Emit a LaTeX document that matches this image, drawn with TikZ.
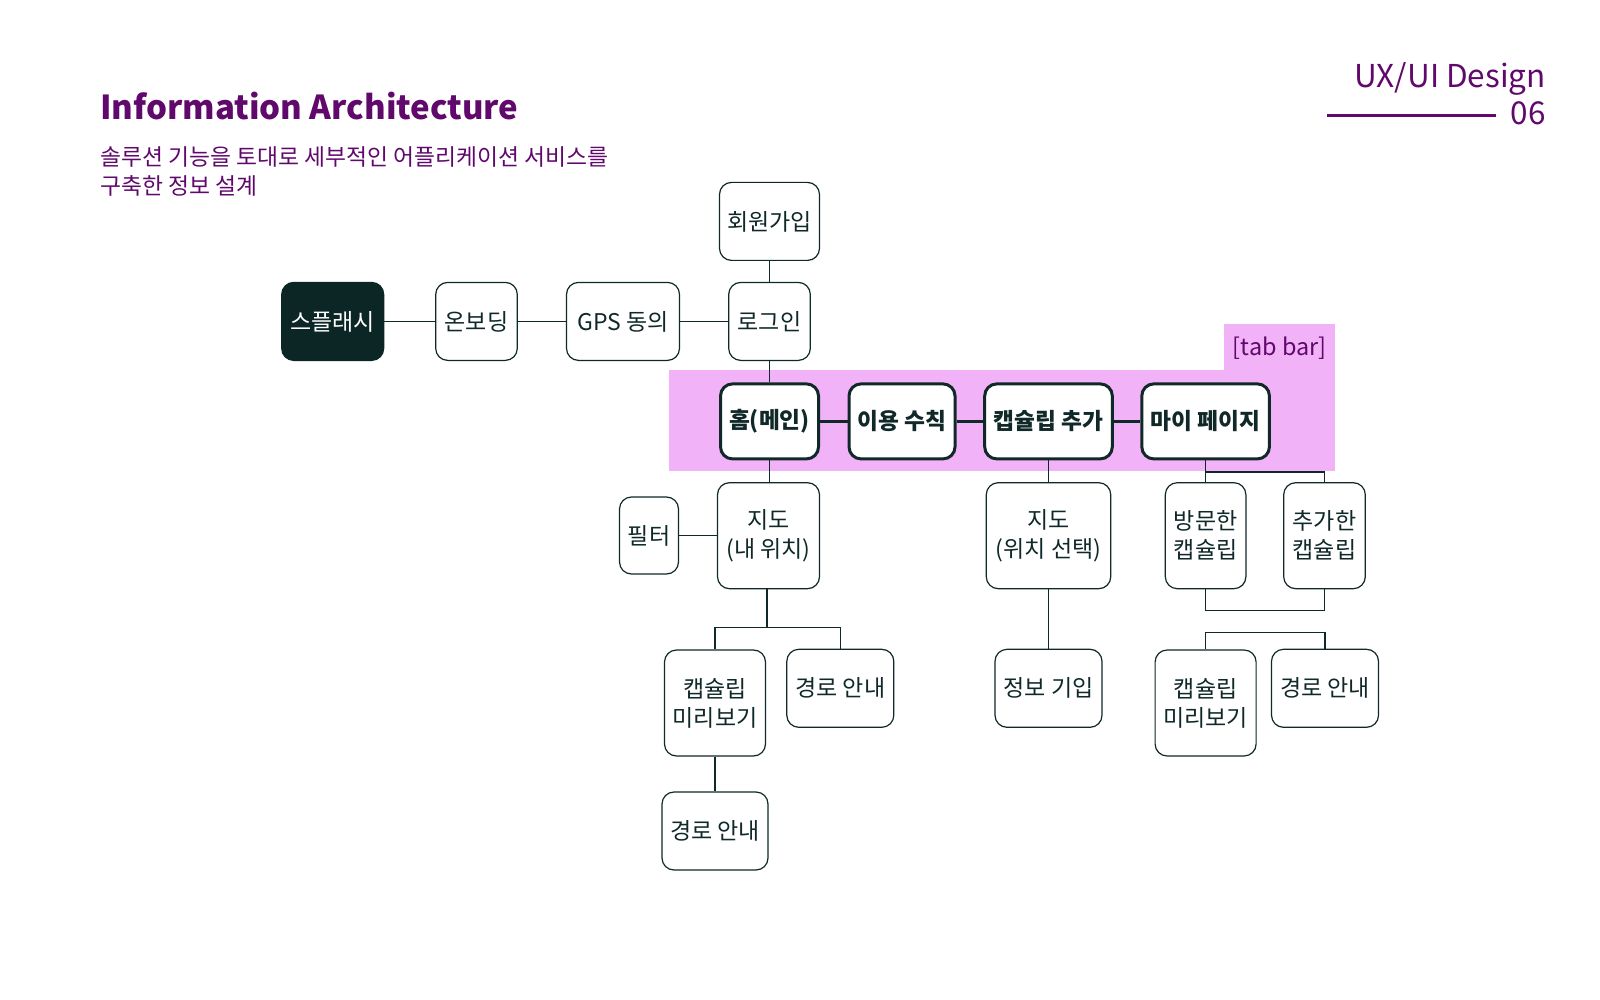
\documentclass[tikz,border=0pt]{standalone}
\usepackage{fontspec}
\setmainfont{Noto Sans CJK KR}
\definecolor{ink}{RGB}{16,40,40}
\definecolor{dark}{RGB}{12,38,38}
\definecolor{plum}{RGB}{96,8,108}
\definecolor{tabpink}{RGB}{242,178,248}
\tikzset{
 box/.style={draw=ink, line width=1.2pt, rounded corners=12pt, fill=white, minimum height=78pt, align=center, font=\fontsize{23}{29}\selectfont, text=ink, inner sep=0pt},
 tall/.style={box, minimum height=106pt},
 tabbox/.style={box, line width=3pt, font=\bfseries\fontsize{22.7}{29}\selectfont, minimum height=75pt},
 ln/.style={draw=ink, line width=1.2pt},
 tl/.style={draw=ink, line width=3pt},
 purpletext/.style={text=plum, inner sep=0pt},
}
\begin{document}
\begin{tikzpicture}[x=1pt,y=-1pt]
\useasboundingbox (0,0) rectangle (1600,1000);
% tab bar background
\fill[tabpink] (669.4,370.4) rectangle (1334.7,471.4);
\fill[tabpink] (1223.5,323.5) rectangle (1334.7,370.4);
\node[purpletext, font=\fontsize{23.4}{29}\selectfont] (tablabel) at (1279.6,348) {[tab bar]};
% titles
\node[purpletext, anchor=base west, font=\bfseries\fontsize{33}{39}\selectfont] (title) at (100,120) {Information Architecture};
\node[purpletext, anchor=base west, font=\fontsize{22.8}{29}\selectfont] (sub1) at (100,166) {솔루션 기능을 토대로 세부적인 어플리케이션 서비스를};
\node[purpletext, anchor=base west, font=\fontsize{22.8}{29}\selectfont] (sub2) at (100,195) {구축한 정보 설계};
\node[purpletext, anchor=base east, font=\fontsize{31.5}{36}\selectfont] (ux) at (1546,88) {UX/UI Design};
\node[purpletext, anchor=base east, font=\fontsize{31.5}{36}\selectfont] (num) at (1546,124.5) {06};
\coordinate (rl1) at (1326.5,115.3);
\coordinate (rl2) at (1496,115.3);
\draw[draw=plum, line width=2.5pt] (rl1) -- (rl2);
% row 1
\node[box, fill=dark, draw=dark, text=white, minimum width=102pt] (splash) at (332.7,321.4) {스플래시};
\node[box, minimum width=81.6pt] (onb) at (476.5,321.4) {온보딩};
\node[box, minimum width=113pt] (gps) at (623,321.4) {GPS 동의};
\node[box, minimum width=81.6pt] (login) at (769.5,321.4) {로그인};
\node[box, minimum width=100pt] (join) at (769.5,221.4) {회원가입};
% tab row
\node[tabbox, minimum width=98pt] (home) at (769.5,421.4) {홈(메인)};
\node[tabbox, minimum width=106pt] (rule) at (902,421.4) {이용 수칙};
\node[tabbox, minimum width=127.6pt] (add) at (1048.5,421.4) {캡슐립 추가};
\node[tabbox, minimum width=127.6pt] (my) at (1205.6,421.4) {마이 페이지};
% row 3
\node[box, minimum width=59pt, minimum height=77pt] (filter) at (649,535.5) {필터};
\node[tall, minimum width=102pt] (map1) at (768.5,535.7) {지도\\(내 위치)};
\node[tall, minimum width=124.5pt] (map2) at (1048.5,535.7) {지도\\(위치 선택)};
\node[tall, minimum width=80.6pt] (visit) at (1205.6,535.7) {방문한\\캡슐립};
\node[tall, minimum width=81.6pt] (added) at (1324.5,535.7) {추가한\\캡슐립};
% row 4
\node[tall, minimum width=101pt] (prevL) at (715,703) {캡슐립\\미리보기};
\node[box, minimum width=107pt] (route1) at (840.3,688.3) {경로 안내};
\node[box, minimum width=107pt] (info) at (1048.5,688.3) {정보 기입};
\node[tall, minimum width=101pt] (prevR) at (1205.6,703) {캡슐립\\미리보기};
\node[box, minimum width=107pt] (route3) at (1325,688.3) {경로 안내};
% row 5
\node[box, minimum width=106pt] (route2) at (715,831) {경로 안내};
% connectors
\draw[ln] (splash) -- (onb);
\draw[ln] (onb) -- (gps);
\draw[ln] (gps) -- (login);
\draw[ln] (join) -- (login);
\draw[ln] (login) -- (home);
\draw[tl] (home) -- (rule);
\draw[tl] (rule) -- (add);
\draw[tl] (add) -- (my);
\draw[ln] (home.south) -- (home.south |- map1.north);
\draw[ln] (filter) -- (filter -| map1.west);
\coordinate (j1) at (767,627.6);
\draw[ln] (map1.south -| j1) -- (j1);
\draw[ln] (prevL.north) |- (j1) -| (route1.north);
\draw[ln] (prevL) -- (route2);
\draw[ln] (add) -- (map2);
\draw[ln] (map2) -- (info);
\coordinate (j2) at (1205.6,472);
\draw[ln] (my.south) -- (visit.north);
\draw[ln] (j2) -| (added.north);
\coordinate (j3) at (1205.6,610.2);
\draw[ln] (visit.south) -- (j3) -| (added.south);
\coordinate (j4) at (1205.6,632.7);
\draw[ln] (prevR.north) -- (j4) -| (route3.north);
\end{tikzpicture}
\end{document}
